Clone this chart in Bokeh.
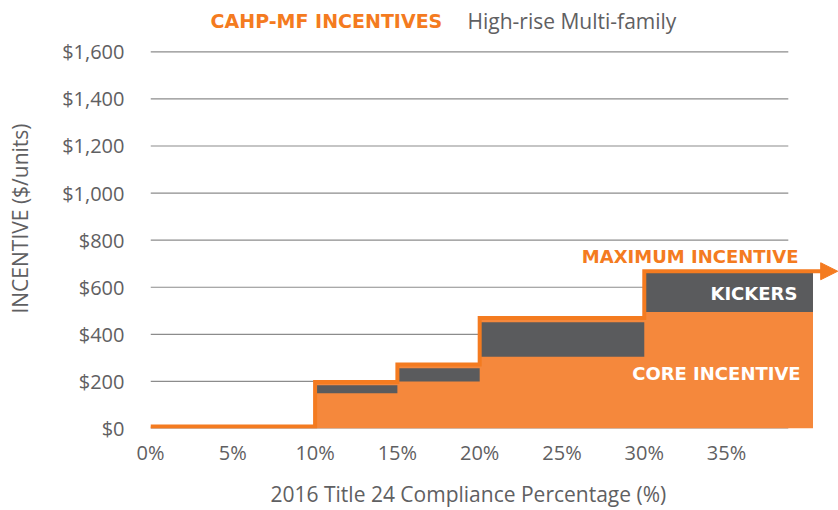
from bokeh.plotting import figure
from bokeh.models import Range1d, FixedTicker, NumeralTickFormatter, Label, Arrow, NormalHead, Title
from bokeh.embed import file_html
from bokeh.resources import INLINE

# ---- data ----
tier_start = [0, 10, 15, 20, 30]          # compliance % where each tier begins
tier_last_end = 40.25                      # end of the last tier drawn
core_incentive = [0, 150, 200, 305, 495]   # $/unit
kicker_top = [0, 184, 256, 451, 660]       # core + kickers, $/unit
max_incentive = [8, 197, 272, 469, 668]    # maximum incentive, $/unit

x_ticks = [0, 5, 10, 15, 20, 25, 30, 35]
x_tick_labels = ["0%", "5%", "10%", "15%", "20%", "25%", "30%", "35%"]
y_ticks = [0, 200, 400, 600, 800, 1000, 1200, 1400, 1600]

ORANGE = "#F47B20"
FILL = "#F5883C"
DARK = "#5A5B5D"
GREY = "#5F6062"
GRID = "#8C8C8C"
FONT = "Open Sans"
BOLD_FONT = "DejaVu Sans"

p = figure(frame_width=688, frame_height=420,
           x_range=Range1d(0, 41.8), y_range=Range1d(0, 1784),
           output_backend="svg", toolbar_location=None,
           min_border_left=150, min_border_right=0, min_border_top=8, min_border_bottom=10)
p.outline_line_color = None
p.xgrid.visible = False
p.ygrid.visible = False
p.background_fill_color = "white"
p.border_fill_color = "white"

# axes
xa = p.xaxis[0]
xa.ticker = FixedTicker(ticks=x_ticks)
xa.major_label_overrides = {t: l for t, l in zip(x_ticks, x_tick_labels)}
ya = p.yaxis[0]
ya.ticker = FixedTicker(ticks=y_ticks)
ya.formatter = NumeralTickFormatter(format="$0,0")
for ax in (xa, ya):
    ax.axis_line_color = None
    ax.major_tick_line_color = None
    ax.minor_tick_line_color = None
    ax.major_label_text_font = FONT
    ax.major_label_text_font_size = "20px"
    ax.major_label_text_color = GREY
    ax.axis_label_text_font = FONT
    ax.axis_label_text_font_size = "21px"
    ax.axis_label_text_font_style = "normal"
    ax.axis_label_text_color = GREY
xa.major_label_standoff = 4
ya.major_label_standoff = 20
ya.axis_label = "INCENTIVE ($/units)"
ya.axis_label_standoff = 25

# x-axis title, placed under the axis
p.add_layout(Title(text="2016 Title 24 Compliance Percentage (%)", align="left", offset=120,
                   text_font=FONT, text_font_size="21px", text_font_style="normal",
                   text_color=GREY, standoff=18), "below")

# gridlines
p.segment(x0=[0] * len(y_ticks), y0=y_ticks, x1=[38.75] * len(y_ticks), y1=y_ticks,
          line_color=GRID, line_width=1.2)

# orange area up to the maximum incentive
area_x = tier_start + [tier_last_end]
area_y = max_incentive + [max_incentive[-1]]
p.varea_step(x=area_x, y1=[0] * len(area_x), y2=area_y, step_mode="after", fill_color=FILL)

# kickers
lefts = tier_start[1:]
rights = tier_start[2:] + [tier_last_end]
p.quad(left=lefts, right=rights, bottom=core_incentive[1:], top=kicker_top[1:],
       fill_color=DARK, line_color=None)

# maximum incentive outline
step_x = tier_start + [40.8]
step_y = max_incentive + [max_incentive[-1]]
p.step(step_x, step_y, mode="after", line_color=ORANGE, line_width=4, line_join="miter")
p.add_layout(Arrow(end=NormalHead(size=17, fill_color=ORANGE, line_color=ORANGE),
                   x_start=40.7, y_start=max_incentive[-1], x_end=41.75, y_end=max_incentive[-1],
                   line_color=ORANGE, line_width=4))

# text labels
p.add_layout(Label(x=3.65, y=1732, text="CAHP-MF INCENTIVES", text_font=BOLD_FONT, text_font_style="bold",
                   text_font_size="19px", text_color=ORANGE, text_baseline="middle"))
p.add_layout(Label(x=19.26, y=1732, text="High-rise Multi-family", text_font=FONT,
                   text_font_size="21px", text_color=GREY, text_baseline="middle"))
p.add_layout(Label(x=39.37, y=732, text="MAXIMUM INCENTIVE", text_font=BOLD_FONT, text_font_style="bold",
                   text_font_size="18px", text_color=ORANGE, text_baseline="middle", text_align="right"))
p.add_layout(Label(x=39.3, y=574, text="KICKERS", text_font=BOLD_FONT, text_font_style="bold",
                   text_font_size="18px", text_color="white", text_baseline="middle", text_align="right"))
p.add_layout(Label(x=39.5, y=235, text="CORE INCENTIVE", text_font=BOLD_FONT, text_font_style="bold",
                   text_font_size="18px", text_color="white", text_baseline="middle", text_align="right"))

open("out.html", "w").write(file_html(p, INLINE))
